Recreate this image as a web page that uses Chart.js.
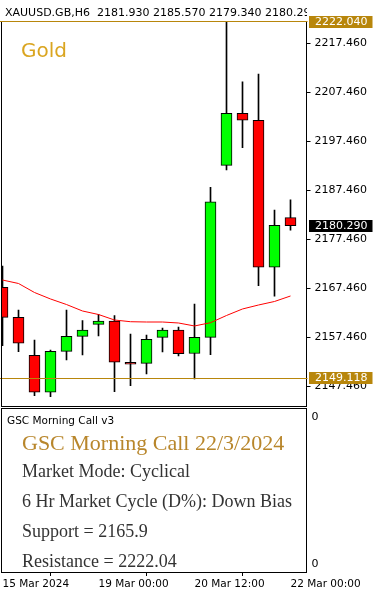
<!DOCTYPE html>
<html><head><meta charset="utf-8">
<script src="https://cdn.jsdelivr.net/npm/chart.js@4.4.1/dist/chart.umd.min.js"></script>
<style>
html,body{margin:0;padding:0;background:#fff;}
#wrap{position:relative;width:375px;height:594px;overflow:hidden;background:#fff;}
canvas{position:absolute;left:0;}
#c1{top:0}
#c2{top:407px}
.t{position:absolute;white-space:pre;line-height:1;}
.sans{font-family:"DejaVu Sans";}
.serif{font-family:"Liberation Serif";}
.note{font-size:18px;color:#333;left:22px;}
</style></head><body>
<div id="wrap">
<canvas id="c1" width="375" height="407"></canvas>
<canvas id="c2" width="375" height="187"></canvas>
<div class="t sans" style="left:5px;top:7.4px;font-size:11px;width:302px;overflow:hidden;color:#000">XAUUSD.GB,H6  2181.930 2185.570 2179.340 2180.290</div>
<div class="t sans" style="left:21px;top:40.4px;font-size:20px;color:#DAA520">Gold</div>
<div class="t sans" style="left:7px;top:415.4px;font-size:10.5px;color:#000">GSC Morning Call v3</div>
<div class="t serif" style="left:22px;top:432.3px;font-size:22px;color:#B8862B">GSC Morning Call 22/3/2024</div>
<div class="t serif note" style="top:461.6px">Market Mode: Cyclical</div>
<div class="t serif note" style="top:491.6px">6 Hr Market Cycle (D%): Down Bias</div>
<div class="t serif note" style="top:521.6px">Support = 2165.9</div>
<div class="t serif note" style="top:551.6px">Resistance = 2222.04</div>
</div>
<script>
const categories = ['15 Mar 12:00','15 Mar 18:00','18 Mar 00:00','18 Mar 06:00','18 Mar 12:00','18 Mar 18:00',
  '19 Mar 00:00','19 Mar 06:00','19 Mar 12:00','19 Mar 18:00','20 Mar 00:00','20 Mar 06:00',
  '20 Mar 12:00','20 Mar 18:00','21 Mar 00:00','21 Mar 06:00','21 Mar 12:00','21 Mar 18:00','22 Mar 00:00',''];
const opens  = [2167.70,2161.58,2153.83,2146.28,2154.64,2157.70,2160.15,2160.83,2152.10,2152.19,2157.50,2158.99,2154.19,2157.50,2192.60,2203.22,2201.79,2171.79,2181.93];
const highs  = [2172.05,2163.07,2156.95,2154.91,2163.07,2160.89,2162.19,2161.91,2158.17,2157.97,2159.40,2159.60,2164.30,2188.11,2222.04,2209.66,2211.24,2183.48,2185.57];
const lows   = [2155.79,2154.56,2145.58,2145.38,2152.87,2153.89,2157.77,2146.40,2147.62,2150.01,2154.50,2153.68,2148.99,2153.95,2191.64,2196.19,2168.03,2165.90,2179.34];
const closes = [2161.58,2156.28,2146.28,2154.64,2157.70,2158.99,2160.83,2152.40,2152.00,2157.09,2158.99,2154.15,2157.50,2185.17,2203.22,2201.79,2171.79,2180.36,2180.29];
const maValues = [2169.19,2168.48,2166.64,2165.32,2164.19,2162.87,2162.15,2161.03,2160.68,2160.62,2160.62,2160.42,2159.81,2160.48,2161.95,2163.28,2164.09,2164.81,2165.93];
const yTickValues = [2147.46,2157.46,2167.46,2177.46,2187.46,2197.46,2207.46,2217.46];
const yRange = [2143.48, 2222.05];
const timeTickIndex = [0,6,12,18];
const timeTickText = ['15 Mar 2024','19 Mar 00:00','20 Mar 12:00','22 Mar 00:00'];
const levelLines = [2222.04, 2149.118];
const priceTags = [[2222.04,'#B8860B'],[2180.29,'#000000'],[2149.118,'#B8860B']];
const subTickValues = [0,1];
const subTickText = ['0','0'];
const subRange = [-0.051, 1.061];

const GOLD = '#B8860B';
const FONT = 'DejaVu Sans';
Chart.defaults.font.family = FONT;
Chart.defaults.color = '#000';

const bodyColors = opens.map((o,i)=> closes[i] >= o ? '#00FF00' : '#FF0000');

const mainPlugin = {
  id:'mainDeco',
  afterDatasetsDraw(chart){
    const {ctx, chartArea:a, scales:{y}} = chart;
    ctx.save();
    ctx.strokeStyle = GOLD; ctx.lineWidth = 1;
    levelLines.forEach(v=>{
      const py = Math.round(y.getPixelForValue(v)) + 0.5;
      ctx.beginPath(); ctx.moveTo(0, py); ctx.lineTo(a.right+1, py); ctx.stroke();
    });
    ctx.strokeStyle = '#000';
    ctx.beginPath();
    ctx.moveTo(1.5, a.top+1); ctx.lineTo(1.5, a.bottom+0.5);
    ctx.moveTo(1, a.bottom+0.5); ctx.lineTo(a.right, a.bottom+0.5);
    ctx.stroke();
    ctx.restore();
  },
  afterDraw(chart){
    const {ctx, chartArea:a, scales:{y}} = chart;
    ctx.save();
    ctx.font = '11px "'+FONT+'"';
    ctx.textBaseline = 'middle';
    ctx.textAlign = 'left';
    priceTags.forEach(([v,bg])=>{
      let top = Math.round(y.getPixelForValue(v)) - 6;
      if (top < 16) top = 16;
      ctx.fillStyle = bg;
      ctx.fillRect(a.right+2.5, top, 63.5, 12);
      ctx.fillStyle = '#fff';
      ctx.fillText(v.toFixed(3), a.right+8.5, top+6.5);
    });
    ctx.restore();
  }
};

new Chart(document.getElementById('c1'), {
  type:'bar',
  data:{
    labels:categories,
    datasets:[
      {type:'line', data:maValues, borderColor:'#FF0000', borderWidth:1, pointRadius:0, tension:0, fill:false, order:0},
      {data:opens.map((o,i)=>[o,closes[i]]), backgroundColor:bodyColors, borderColor:'#000', borderWidth:1, borderSkipped:false,
        barThickness:11, maxBarThickness:11, grouped:false, minBarLength:2, order:1, clip:{left:1,top:0,right:0,bottom:0}},
      {data:lows.map((l,i)=>[l,highs[i]]), backgroundColor:'#000', borderWidth:0,
        barThickness:1, maxBarThickness:1, grouped:false, order:2, clip:{left:1,top:0,right:0,bottom:0}}
    ]
  },
  options:{
    responsive:false, animation:false, devicePixelRatio:1,
    layout:{padding:{left:2.5, top:21, right:0, bottom:1}},
    plugins:{legend:{display:false}, tooltip:{enabled:false}},
    events:[],
    scales:{
      x:{type:'category', display:false, offset:false},
      y:{type:'linear', position:'right', min:yRange[0], max:yRange[1],
        afterBuildTicks(s){ s.ticks = yTickValues.map(v=>({value:v})); },
        afterFit(s){ s.width = 68.5; s.paddingTop = 0; s.paddingBottom = 0; },
        grid:{display:true, drawOnChartArea:false, drawTicks:true, tickLength:4, color:'#000'},
        border:{display:true, color:'#000', width:1},
        ticks:{autoSkip:false, padding:4, font:{size:11, family:FONT}, color:'#000', callback:v=>Number(v).toFixed(3)}
      }
    }
  },
  plugins:[mainPlugin]
});

const subPlugin = {
  id:'subDeco',
  afterDraw(chart){
    const {ctx, chartArea:a} = chart;
    ctx.save();
    ctx.strokeStyle = '#000'; ctx.lineWidth = 1;
    ctx.beginPath();
    ctx.moveTo(1, a.top+0.5); ctx.lineTo(a.right, a.top+0.5);
    ctx.moveTo(1.5, a.top); ctx.lineTo(1.5, a.bottom+1);
    ctx.stroke();
    ctx.restore();
  }
};

new Chart(document.getElementById('c2'), {
  type:'bar',
  data:{labels:categories, datasets:[]},
  options:{
    responsive:false, animation:false, devicePixelRatio:1,
    layout:{padding:{left:2.5, top:1, right:0, bottom:0}},
    plugins:{legend:{display:false}, tooltip:{enabled:false}},
    events:[],
    scales:{
      x:{type:'category', offset:false, position:'bottom',
        afterBuildTicks(s){ s.ticks = timeTickIndex.map(v=>({value:v})); },
        afterFit(s){ s.height = 22; s.paddingLeft = 0; s.paddingRight = 0; },
        grid:{display:true, drawOnChartArea:false, drawTicks:true, tickLength:4, color:'#000'},
        border:{display:true, color:'#000', width:1},
        ticks:{autoSkip:false, maxRotation:0, minRotation:0, align:'start', padding:2, font:{size:10.5, family:FONT}, color:'#000',
          callback:(v)=>timeTickText[timeTickIndex.indexOf(v)]}
      },
      y:{type:'linear', position:'right', min:subRange[0], max:subRange[1],
        afterBuildTicks(s){ s.ticks = subTickValues.map(v=>({value:v})); },
        afterFit(s){ s.width = 68.5; s.paddingTop = 0; s.paddingBottom = 0; },
        grid:{display:false, drawTicks:false},
        border:{display:true, color:'#000', width:1},
        ticks:{autoSkip:false, padding:5, font:{size:11, family:FONT}, color:'#000',
          callback:(v)=>subTickText[subTickValues.indexOf(v)]}
      }
    }
  },
  plugins:[subPlugin]
});
</script>
</body></html>
